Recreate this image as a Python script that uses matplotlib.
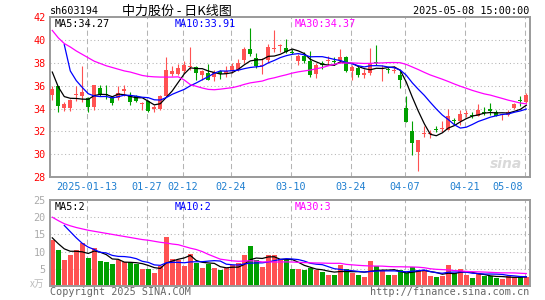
import numpy as np
import pandas as pd
import matplotlib
matplotlib.use('Agg')
import matplotlib.pyplot as plt

# trading days shown on the chart
dates = ['01-03', '01-06', '01-07', '01-08', '01-09', '01-10', '01-13', '01-14', '01-15', '01-16',
         '01-17', '01-20', '01-21', '01-22', '01-23', '01-24', '01-27', '02-05', '02-06', '02-07',
         '02-10', '02-11', '02-12', '02-13', '02-14', '02-17', '02-18', '02-19', '02-20', '02-21',
         '02-24', '02-25', '02-26', '02-27', '02-28', '03-03', '03-04', '03-05', '03-06', '03-07',
         '03-10', '03-11', '03-12', '03-13', '03-14', '03-17', '03-18', '03-19', '03-20', '03-21',
         '03-24', '03-25', '03-26', '03-27', '03-28', '03-31', '04-01', '04-02', '04-03', '04-07',
         '04-08', '04-09', '04-10', '04-11', '04-14', '04-15', '04-16', '04-17', '04-18', '04-21',
         '04-22', '04-23', '04-24', '04-25', '04-28', '04-29', '04-30', '05-06', '05-07', '05-08']

open_ = [35.21, 35.94, 34.03, 34.09, 35.15, 35.06, 34.91, 34.18, 35.79, 35.29,
         34.97, 34.91, 35.56, 35.20, 35.06, 34.40, 34.68, 33.97, 33.94, 35.06,
         37.03, 37.03, 37.32, 37.60, 37.65, 36.90, 37.12, 36.80, 37.26, 37.03,
         37.26, 37.41, 38.29, 39.18, 38.44, 37.70, 38.29, 39.20, 39.45, 39.32,
         39.00, 38.15, 38.65, 38.15, 37.06, 37.95, 38.15, 38.10, 38.20, 38.50,
         37.26, 37.56, 36.91, 37.12, 38.10, 37.50, 37.40, 37.33, 36.97, 34.03,
         32.03, 30.21, 31.75, 31.74, 32.20, 32.20, 32.12, 32.95, 32.91, 33.50,
         33.42, 33.35, 33.70, 33.94, 33.68, 33.40, 33.44, 34.03, 34.72, 34.56]
high = [35.94, 35.94, 34.56, 34.80, 36.00, 37.70, 35.00, 36.10, 36.03, 36.03,
        35.10, 35.94, 36.10, 35.45, 35.20, 34.60, 34.77, 34.33, 35.20, 38.50,
        37.70, 37.90, 38.15, 39.38, 37.70, 37.40, 37.90, 37.40, 37.40, 37.70,
        38.00, 38.35, 39.41, 41.03, 38.90, 38.44, 39.65, 40.85, 39.70, 40.06,
        39.18, 38.74, 38.97, 39.06, 38.00, 38.15, 38.59, 38.50, 39.24, 38.59,
        37.85, 37.70, 37.47, 39.32, 39.53, 37.85, 37.62, 37.70, 37.26, 35.06,
        32.91, 31.24, 32.50, 32.10, 32.47, 32.90, 33.97, 33.15, 33.88, 33.88,
        33.74, 34.38, 34.18, 34.47, 33.88, 33.56, 33.88, 34.47, 35.06, 35.35]
low = [34.76, 33.68, 33.79, 33.80, 34.68, 34.60, 33.68, 33.88, 35.06, 34.82,
       34.33, 34.76, 35.06, 34.33, 34.56, 33.88, 33.68, 33.68, 33.88, 35.06,
       36.82, 36.94, 37.12, 37.41, 36.53, 36.53, 36.47, 36.38, 36.62, 36.76,
       37.12, 37.26, 38.00, 38.59, 37.56, 37.06, 38.00, 39.00, 39.00, 38.88,
       38.74, 37.85, 38.00, 36.76, 36.68, 37.50, 37.85, 37.85, 38.00, 37.20,
       36.53, 36.73, 36.70, 36.97, 37.85, 36.44, 37.12, 37.12, 35.79, 32.79,
       29.97, 28.53, 31.53, 31.38, 31.91, 31.91, 32.12, 32.56, 32.56, 33.24,
       33.15, 33.32, 33.44, 33.44, 33.32, 33.00, 33.38, 33.97, 34.23, 34.47]
close = [35.74, 34.26, 34.38, 34.76, 35.29, 35.44, 34.18, 36.03, 35.29, 35.21,
         34.47, 35.35, 35.74, 34.56, 34.62, 34.47, 33.79, 34.18, 35.06, 37.41,
         37.32, 37.56, 37.85, 37.70, 37.12, 37.26, 36.53, 37.20, 37.03, 37.26,
         37.70, 38.00, 39.18, 38.74, 37.70, 37.85, 39.41, 39.32, 39.50, 38.97,
         38.90, 38.59, 38.15, 36.97, 37.85, 37.82, 38.29, 38.05, 38.50, 37.32,
         37.65, 36.91, 37.12, 38.00, 37.97, 37.56, 37.35, 37.38, 36.47, 32.79,
         31.00, 31.24, 31.82, 31.88, 32.15, 32.26, 33.35, 32.88, 33.53, 33.56,
         33.38, 33.88, 33.65, 33.80, 33.38, 33.44, 33.74, 34.41, 34.68, 35.20]
# volume, 万手
volume = [13.4, 10.35, 7.45, 8.9, 10.35, 12.6, 8.0, 11.0, 7.15, 6.87,
          6.29, 7.45, 6.96, 6.87, 6.29, 4.93, 4.84, 3.77, 5.71, 14.2,
          7.74, 7.45, 5.71, 9.38, 6.77, 5.13, 6.48, 5.13, 4.55, 5.13,
          6.0, 6.67, 8.9, 11.6, 7.45, 5.42, 8.9, 9.1, 7.93, 7.45,
          5.03, 5.03, 4.55, 5.22, 4.74, 4.06, 3.1, 3.1, 6.0, 4.84,
          3.77, 3.1, 2.5, 7.16, 5.8, 4.55, 3.1, 3.1, 4.55, 3.77,
          5.42, 4.55, 4.35, 2.8, 2.5, 2.9, 6.0, 3.77, 4.84, 3.1,
          2.22, 3.77, 2.8, 2.9, 2.22, 2.03, 3.0, 2.5, 3.0, 2.6]

# first values of the averages depend on days before the window
ma5_head = [37.2, 35.9, 35.05, 34.9]
ma10_head = [np.nan, np.nan, 39.6, 37.3, 36.45, 35.85, 35.3, 35.1, 35.05]
ma30_head = [40.85, 40.2, 39.7, 39.4, 39.05, 38.75, 38.45, 38.15, 37.95, 37.75,
             37.6, 37.45, 37.3, 37.2, 37.05, 36.9, 36.82, 36.78, 36.76, 36.76,
             36.76, 36.78, 36.5, 36.1, 35.95, 35.8, 35.68, 35.65, 35.7]
vma5_head = [14.0, 12.3, 10.8, 10.1]
vma10_head = [np.nan, np.nan, 17.6, 15.8, 14.0, 12.4, 11.3, 10.6, 9.8]
vma30_head = [20.0, 19.0, 18.1, 17.5, 17.0, 16.6, 16.2, 15.9, 15.6, 15.3,
              15.0, 14.7, 14.4, 14.1, 13.8, 13.5, 13.3, 13.0, 12.7, 12.5,
              12.2, 12.0, 11.5, 11.0, 10.6, 10.0, 9.2, 8.5, 7.8]

tick_dates = ['01-13', '01-27', '02-12', '02-24', '03-10', '03-24', '04-07', '04-21', '05-08']
tick_labels = ['2025-01-13', '01-27', '02-12', '02-24', '03-10', '03-24', '04-07', '04-21', '05-08']
price_ticks = [28, 30, 32, 34, 36, 38, 40, 42]
vol_ticks = [5, 10, 15, 20, 25]

RED = '#ff5252'
GREEN = '#00a000'
GRID = '#b4b4b4'
FRAME = '#9a9a9a'
XLAB = '#1f7fd0'
MONO = 'DejaVu Sans Mono'
CJK = ['Noto Sans CJK SC', 'DejaVu Sans']


def moving(values, n, head):
    out = pd.Series(values).rolling(n).mean().to_numpy()
    out[:len(head)] = head
    return out


def main():
    W, H = 545, 300
    n = len(dates)
    xs = np.arange(n)
    o = np.array(open_)
    c = np.array(close)
    up = c >= o
    colors = np.where(up, RED, GREEN)

    fig = plt.figure(figsize=(W / 100, H / 100), dpi=100)
    fig.patch.set_facecolor('white')
    ax = fig.add_axes([50 / W, 1 - 177 / H, 479.5 / W, (177 - 17.3) / H])
    axv = fig.add_axes([50 / W, 1 - 286 / H, 479.5 / W, (286 - 200) / H])

    grid_x = [dates.index(d) - 0.27 for d in tick_dates]
    for a in (ax, axv):
        a.set_xlim(-0.38, n - 0.47)
        for s in a.spines.values():
            s.set_color(FRAME)
            s.set_linewidth(1.4)
        for gx in grid_x:
            a.axvline(gx, color=GRID, lw=0.75, ls=(0, (5, 3)), zorder=0)
        a.set_xticks([])
        a.tick_params(axis='y', length=0, pad=3.2, labelsize=7.3)

    # price panel
    ax.set_ylim(28, 42)
    ax.set_yticks(price_ticks)
    ax.set_yticklabels([str(t) for t in price_ticks], color='#ff0000', fontfamily=MONO)
    for t in price_ticks[1:-1]:
        ax.axhline(t, color=GRID, lw=0.75, ls=(0, (1, 2.5)), zorder=0)

    ax.vlines(xs, low, high, colors=colors, lw=0.8, zorder=2)
    body = np.maximum(np.abs(c - o), 0.08)
    ax.bar(xs, body, bottom=np.minimum(o, c), width=0.72, color=colors,
           linewidth=0, zorder=3)

    ax.plot(xs, moving(close, 5, ma5_head), color='black', lw=0.9, zorder=4)
    ax.plot(xs, moving(close, 10, ma10_head), color='#0000ff', lw=0.9, zorder=4)
    ax.plot(xs, moving(close, 30, ma30_head), color='#ff00ff', lw=0.9, zorder=4)

    for gx, lab in zip(grid_x, tick_labels):
        if lab == tick_labels[-1]:
            ax.text(n - 1.5, -0.06, lab, ha='right', va='center', color=XLAB,
                    fontsize=7.3, fontfamily=MONO, transform=ax.get_xaxis_transform())
        else:
            ax.text(gx, -0.06, lab, ha='center', va='center', color=XLAB,
                    fontsize=7.3, fontfamily=MONO, transform=ax.get_xaxis_transform())

    ax.text(0.985, 0.04, 'sina', ha='right', va='bottom', color='#d9d9d9',
            fontsize=10, fontweight='bold', style='italic', transform=ax.transAxes)

    # volume panel
    axv.set_ylim(0, 25)
    axv.set_yticks(vol_ticks)
    axv.set_yticklabels([str(t) for t in vol_ticks], color='#aaaaaa', fontfamily=MONO)
    for t in vol_ticks[:-1]:
        axv.axhline(t, color=GRID, lw=0.75, ls=(0, (1, 2.5)), zorder=0)
    axv.bar(xs, volume, width=0.88, color=colors, linewidth=0, zorder=2)
    axv.plot(xs, moving(volume, 5, vma5_head), color='black', lw=0.9, zorder=4)
    axv.plot(xs, moving(volume, 10, vma10_head), color='#0000ff', lw=0.9, zorder=4)
    axv.plot(xs, moving(volume, 30, vma30_head), color='#ff00ff', lw=0.9, zorder=4)

    def ftext(x, y, s, **kw):
        kw.setdefault('fontsize', 7.3)
        kw.setdefault('fontfamily', MONO)
        fig.text(x / W, 1 - y / H, s, va='center', **kw)

    ftext(50, 11.5, 'sh603194', ha='left')
    ftext(177, 11.5, '中力股份 - 日K线图', ha='center', fontsize=9.4, fontfamily=CJK)
    ftext(529.5, 11.5, '2025-05-08 15:00:00', ha='right')

    ftext(55, 24, 'MA5:34.27', ha='left', color='black')
    ftext(175, 24, 'MA10:33.91', ha='left', color='#0000ff')
    ftext(295, 24, 'MA30:34.37', ha='left', color='#ff00ff')

    ftext(55, 207, 'MA5:2', ha='left', color='black')
    ftext(175, 207, 'MA10:2', ha='left', color='#0000ff')
    ftext(295, 207, 'MA30:3', ha='left', color='#ff00ff')

    ftext(44, 284, 'x万', ha='right', color='#bbbbbb', fontsize=7, fontfamily=CJK, style='italic')
    ftext(50, 292, 'Copyright 2025 SINA.COM', ha='left', color='#666666')
    ftext(529.5, 292, 'http://finance.sina.com.cn', ha='right', color='#666666')

    fig.savefig('out.png', dpi=100)


if __name__ == '__main__':
    main()
